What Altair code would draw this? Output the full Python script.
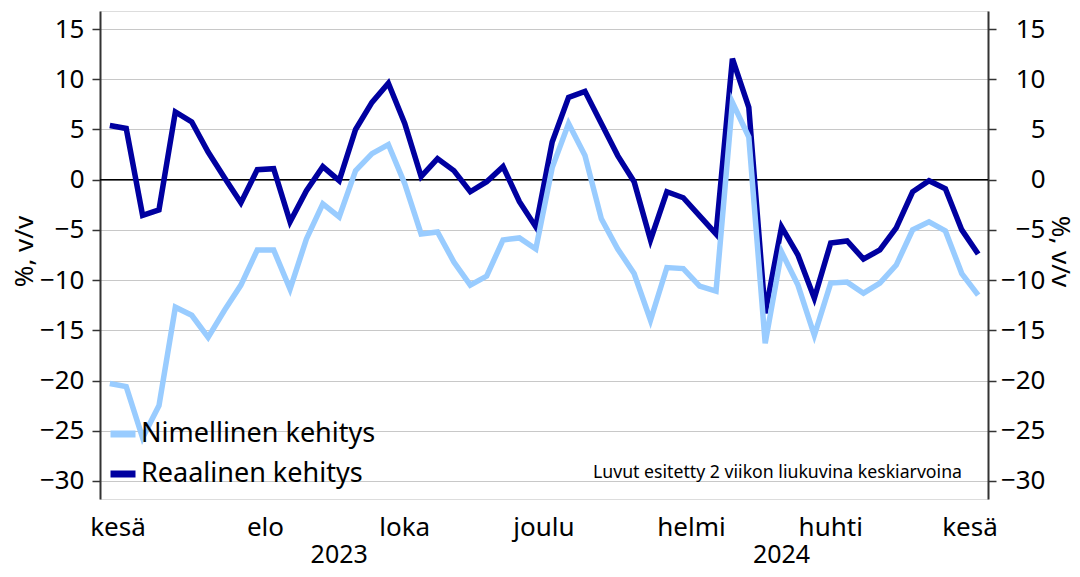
import altair as alt
import pandas as pd

# ---------------- data ----------------
week_start = "2023-06-12"          # first plotted week (Monday)
n_weeks = 54
nominal = [-20.3, -20.6, -25.7, -22.5, -12.7, -13.5, -15.7, -13.0, -10.5, -7.0,
           -7.0, -10.9, -5.9, -2.4, -3.7, 0.9, 2.6, 3.5, -0.4, -5.4,
           -5.2, -8.2, -10.5, -9.6, -6.0, -5.8, -6.9, 1.2, 5.6, 2.4,
           -3.9, -6.9, -9.35, -14.0, -8.75, -8.85, -10.6, -11.1, 7.7, 4.25,
           -16.3, -7.2, -10.5, -15.5, -10.3, -10.2, -11.3, -10.3, -8.5, -5.0,
           -4.2, -5.1, -9.35, -11.5]
real = [5.4, 5.1, -3.55, -3.0, 6.75, 5.75, 2.75, 0.2, -2.3, 1.0,
        1.1, -4.2, -1.1, 1.3, -0.1, 5.0, 7.7, 9.6, 5.6, 0.3,
        2.1, 0.9, -1.2, -0.2, 1.3, -2.2, -4.7, 3.75, 8.2, 8.8,
        5.6, 2.4, -0.2, -6.0, -1.2, -1.8, -3.6, -5.4, 12.05, 7.2,
        -13.3, -4.7, -7.5, -11.8, -6.3, -6.1, -7.9, -7.0, -4.8, -1.2,
        -0.1, -0.9, -5.0, -7.4]
series_names = ["Nimellinen kehitys", "Reaalinen kehitys"]
series_colors = ["#99CCFF", "#0000A0"]
month_names = ["tammi", "helmi", "maalis", "huhti", "touko", "kesä",
               "heinä", "elo", "syys", "loka", "marras", "joulu"]
labelled_months = [(2023, 6), (2023, 8), (2023, 10), (2023, 12),
                   (2024, 2), (2024, 4), (2024, 6)]
years = [2023, 2024]
y_ticks = [-30, -25, -20, -15, -10, -5, 0, 5, 10, 15]
y_title = "%, v/v"
note = "Luvut esitetty 2 viikon liukuvina keskiarvoina"

FONT = "Noto Sans"
W, H = 888, 488
X_DOM = [-0.6, 53.6]
Y_DOM = [-31.8, 16.8]

# ---------------- derived tables ----------------
start = pd.Timestamp(week_start)
weeks = pd.date_range(start, periods=n_weeks, freq="7D")

df = pd.DataFrame({
    "i": list(range(n_weeks)) * 2,
    "value": nominal + real,
    "series": [series_names[0]] * n_weeks + [series_names[1]] * n_weeks,
})

# month boundaries (tick positions)
bounds = [i - 0.5 for i in range(1, n_weeks) if weeks[i].month != weeks[i - 1].month]

# month label centres (over all Mondays of each labelled month)
mondays = pd.date_range("2023-06-01", "2024-06-30", freq="W-MON")
mrows = []
for (yy, mm) in labelled_months:
    idx = [(d - start).days / 7 for d in mondays if d.year == yy and d.month == mm]
    mrows.append({"i": sum(idx) / len(idx), "label": month_names[mm - 1]})
months_df = pd.DataFrame(mrows)

# year label centres over the axis extent
yrows = []
for yy in years:
    idx = [k for k in range(n_weeks) if weeks[k].year == yy]
    lo = max(min(idx) - 0.5, -0.5)
    hi = min(max(idx) + 0.5, n_weeks - 0.5)
    yrows.append({"i": (lo + hi) / 2, "label": str(yy)})
years_df = pd.DataFrame(yrows)

# ---------------- chart ----------------
x_scale = alt.Scale(domain=X_DOM, nice=False, zero=False)
y_scale = alt.Scale(domain=Y_DOM, nice=False, zero=False)
color_scale = alt.Scale(domain=series_names, range=series_colors)

legend = alt.Legend(
    title=None, orient="none", legendX=7, legendY=407, padding=0,
    symbolType="stroke", symbolSize=625, symbolStrokeWidth=7,
    labelFont=FONT, labelFontSize=27, labelColor="#000000",
    labelOffset=2, rowPadding=10, labelLimit=400,
)

x_axis = alt.Axis(values=bounds, labels=False, tickSize=5, grid=False, title=None,
                  domainColor="#333333", domainWidth=2, tickColor="#333333", tickWidth=1.5)

left_axis = alt.Axis(
    orient="left", values=y_ticks, title=y_title, grid=True, gridColor="#c8c8c8",
    gridWidth=1.2, tickSize=8, tickColor="#333333", tickWidth=1.5,
    domainColor="#333333", domainWidth=2, labelFont=FONT, labelFontSize=26,
    labelColor="#000000", labelPadding=8, titleFont=FONT, titleFontSize=26,
    titleFontWeight="normal", titleColor="#000000", titleAngle=270,
    titleBaseline="middle", titleAlign="center", titleX=-76, titleY=240,
)
right_axis = alt.Axis(
    orient="right", values=y_ticks, title=y_title, grid=False,
    tickSize=8, tickColor="#333333", tickWidth=1.5,
    domainColor="#333333", domainWidth=2, labelFont=FONT, labelFontSize=26,
    labelColor="#000000", labelAlign="right", labelPadding=49,
    titleFont=FONT, titleFontSize=26, titleFontWeight="normal",
    titleColor="#000000", titleAngle=90, titleBaseline="middle",
    titleAlign="center", titleX=71, titleY=240,
)

base = alt.Chart(df)

zero_rule = alt.Chart(pd.DataFrame({"y": [0]})).mark_rule(
    color="#000000", strokeWidth=1.5
).encode(y=alt.Y("y:Q", scale=y_scale, axis=None))

line_real = base.transform_filter(
    alt.datum.series == series_names[1]
).mark_line(strokeWidth=5.5, strokeJoin="miter").encode(
    x=alt.X("i:Q", scale=x_scale, axis=x_axis),
    y=alt.Y("value:Q", scale=y_scale, axis=left_axis),
    color=alt.Color("series:N", scale=color_scale, legend=legend),
)

line_nom = base.transform_filter(
    alt.datum.series == series_names[0]
).mark_line(strokeWidth=5.5, strokeJoin="miter").encode(
    x=alt.X("i:Q", scale=x_scale, axis=None),
    y=alt.Y("value:Q", scale=y_scale, axis=right_axis),
    color=alt.Color("series:N", scale=color_scale, legend=legend),
)

month_text = alt.Chart(months_df).mark_text(
    font=FONT, fontSize=26, color="#000000", baseline="middle", align="center"
).encode(
    x=alt.X("i:Q", scale=x_scale, axis=None),
    y=alt.value(H + 29),
    text="label:N",
)

year_text = alt.Chart(years_df).mark_text(
    font=FONT, fontSize=25, color="#000000", baseline="middle", align="center"
).encode(
    x=alt.X("i:Q", scale=x_scale, axis=None),
    y=alt.value(H + 56),
    text="label:N",
)

note_text = alt.Chart(pd.DataFrame({"t": [note]})).mark_text(
    font=FONT, fontSize=17.7, color="#000000", baseline="middle", align="right"
).encode(
    x=alt.value(862), y=alt.value(462), text="t:N",
)

chart = alt.layer(
    zero_rule, line_real, line_nom, month_text, year_text, note_text
).resolve_scale(y="shared", x="shared").resolve_axis(y="independent").properties(
    width=W, height=H,
    autosize=alt.AutoSizeParams(type="none"),
    padding={"left": 92, "top": 3, "right": 84, "bottom": 70},
).configure_view(stroke=None).configure(font=FONT)

chart.save("out.html", embed_options={"renderer": "svg", "actions": False})
